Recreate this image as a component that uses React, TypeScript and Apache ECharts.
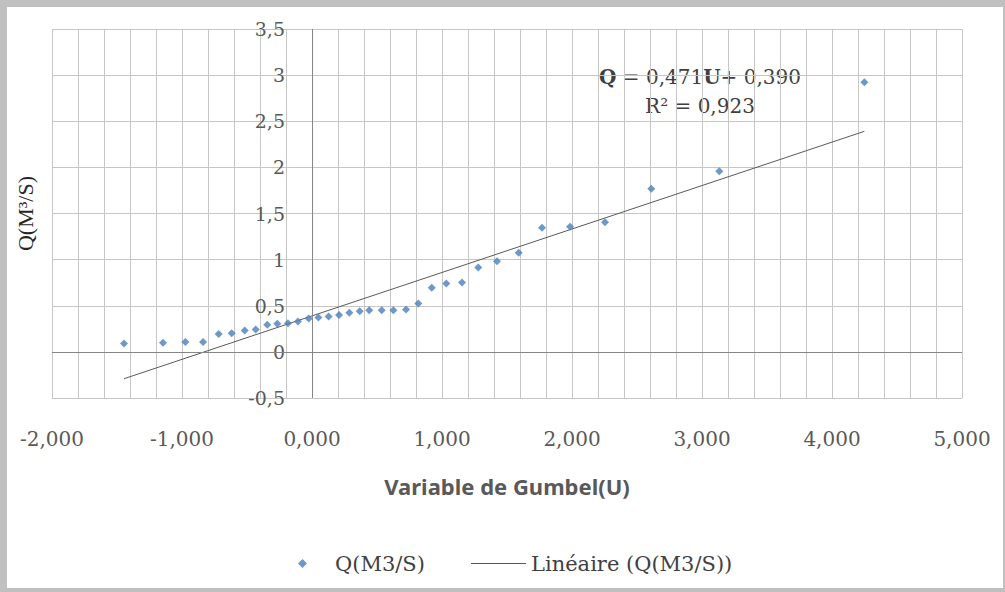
import React, { useEffect, useRef } from 'react';
import * as echarts from 'echarts';

// Gumbel reduced variable (U) and discharge Q (m3/s)
const gumbelU = [
  -1.446, -1.146, -0.974, -0.838, -0.718, -0.618, -0.518, -0.433, -0.344, -0.267,
  -0.185, -0.108, -0.025, 0.049, 0.128, 0.208, 0.287, 0.367, 0.44, 0.536,
  0.626, 0.723, 0.818, 0.921, 1.033, 1.154, 1.279, 1.423, 1.59, 1.769,
  1.985, 2.254, 2.61, 3.133, 4.249,
];
const discharge = [
  0.09, 0.098, 0.108, 0.108, 0.195, 0.202, 0.231, 0.242, 0.293, 0.304,
  0.31, 0.329, 0.361, 0.372, 0.383, 0.401, 0.423, 0.44, 0.451, 0.451,
  0.451, 0.459, 0.524, 0.694, 0.741, 0.752, 0.914, 0.983, 1.074, 1.345,
  1.356, 1.406, 1.768, 1.959, 2.924,
];
// Linear trend line end points
const trendU = [-1.446, 4.249];
const trendQ = [-0.291, 2.391];

const seriesName = 'Q(M3/S)';
const trendName = 'Linéaire (Q(M3/S))';
const xTitle = 'Variable de Gumbel(U)';
const yTitle = 'Q(M³/S)';
const equationLine1 = '{b|Q} = 0,471{b|U}+ 0,390';
const equationLine2 = 'R² = 0,923';

const X_MIN = -2, X_MAX = 5, X_STEP = 1;
const Y_MIN = -0.5, Y_MAX = 3.5, Y_STEP = 0.5;

export default function App() {
  const ref = useRef<HTMLDivElement>(null);
  useEffect(() => {
    document.body.style.margin = '0';
    const chart = echarts.init(ref.current!, null, { renderer: 'svg' });
    const grid = '#c6c6c6';
    const legendText = { fontFamily: 'DejaVu Serif', fontSize: 21, color: '#404040' };
    chart.setOption({
      animation: false,
      grid: { left: 45, right: 41, top: 22, bottom: 190, containLabel: false, outerBoundsMode: 'none' },
      xAxis: {
        type: 'value',
        min: X_MIN,
        max: X_MAX,
        interval: X_STEP,
        position: 'bottom',
        axisLine: { show: false, onZero: false },
        axisTick: { show: false },
        axisLabel: {
          margin: 31,
          fontFamily: 'DejaVu Serif',
          fontSize: 20,
          color: '#595959',
          formatter: (v: number) => v.toFixed(3).replace('.', ','),
        },
        splitLine: { show: true, lineStyle: { color: grid, width: 1 } },
        minorTick: { show: false, splitNumber: 5 },
        minorSplitLine: { show: true, lineStyle: { color: grid, width: 1 } },
        name: xTitle,
        nameLocation: 'middle',
        nameGap: 77,
        nameTextStyle: { fontFamily: 'Noto Sans', fontWeight: 'bold', fontSize: 22, color: '#595959' },
      },
      yAxis: {
        type: 'value',
        min: Y_MIN,
        max: Y_MAX,
        interval: Y_STEP,
        position: 'left',
        axisLine: { show: false, onZero: false },
        axisTick: { show: false },
        axisLabel: {
          margin: -233,
          fontFamily: 'DejaVu Serif',
          fontSize: 19,
          color: '#595959',
          formatter: (v: number) => String(v).replace('.', ','),
        },
        splitLine: { show: true, lineStyle: { color: grid, width: 1 } },
        name: yTitle,
        nameLocation: 'middle',
        nameRotate: 90,
        nameGap: 16,
        nameTextStyle: { fontFamily: 'Liberation Serif', fontSize: 22, color: '#262626' },
      },
      legend: [
        {
          left: 286,
          top: 541,
          itemWidth: 9,
          itemHeight: 9,
          selectedMode: false,
          icon: 'diamond',
          textStyle: { ...legendText, padding: [0, 0, 0, 23] },
          data: [seriesName],
        },
        {
          left: 459,
          top: 541,
          itemWidth: 55,
          itemHeight: 1,
          selectedMode: false,
          icon: 'rect',
          textStyle: legendText,
          data: [trendName],
        },
      ],
      graphic: [
        {
          type: 'text',
          x: 693,
          y: 70,
          style: {
            text: equationLine1,
            textAlign: 'center',
            textVerticalAlign: 'middle',
            fontFamily: 'DejaVu Serif',
            fontSize: 20,
            fill: '#404040',
            rich: { b: { fontFamily: 'DejaVu Serif', fontSize: 20, fontWeight: 'bold', fill: '#404040' } },
          },
        },
        {
          type: 'text',
          x: 693,
          y: 99,
          style: {
            text: equationLine2,
            textAlign: 'center',
            textVerticalAlign: 'middle',
            fontFamily: 'DejaVu Serif',
            fontSize: 20,
            fill: '#404040',
          },
        },
      ],
      series: [
        {
          name: trendName,
          type: 'line',
          data: trendU.map((u, i) => [u, trendQ[i]]),
          symbol: 'none',
          itemStyle: { color: '#595959' },
          lineStyle: { color: '#595959', width: 1 },
          z: 2,
          markLine: {
            silent: true,
            symbol: 'none',
            label: { show: false },
            lineStyle: { color: '#868686', width: 1, type: 'solid' },
            data: [{ yAxis: 0 }, { xAxis: 0 }],
          },
        },
        {
          name: seriesName,
          type: 'scatter',
          data: gumbelU.map((u, i) => [u, discharge[i]]),
          symbol: 'diamond',
          symbolSize: 8,
          itemStyle: { color: '#4a7ebb' },
          z: 3,
        },
      ],
    });
    return () => chart.dispose();
  }, []);
  return (
    <div style={{ position: 'relative', width: 1005, height: 592, background: '#c0c0c0', overflow: 'hidden' }}>
      <div
        ref={ref}
        style={{ position: 'absolute', left: 7, top: 7, width: 996, height: 581, background: '#ffffff' }}
      />
    </div>
  );
}
